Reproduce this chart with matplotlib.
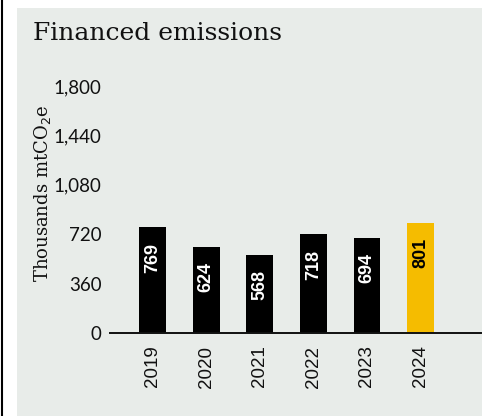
import matplotlib
matplotlib.use("Agg")
import matplotlib.pyplot as plt
from matplotlib.patches import Rectangle
from matplotlib.lines import Line2D
import numpy as np

# --- Data ---
years = ["2019", "2020", "2021", "2022", "2023", "2024"]
emissions = [769, 624, 568, 718, 694, 801]
yticks = [0, 360, 720, 1080, 1440, 1800]
ytick_labels = ["0", "360", "720", "1,080", "1,440", "1,800"]

BG = "#E8ECE9"
GOLD = "#F5BC00"
W, H = 482, 416

fig = plt.figure(figsize=(W / 100, H / 100), dpi=100)
fig.patch.set_facecolor("white")

# panel background and left rule
fig.add_artist(Rectangle((17 / W, 0), 1 - 17 / W, 1 - 8 / H,
                         transform=fig.transFigure, facecolor=BG,
                         edgecolor="none", zorder=-10))
fig.add_artist(Line2D([2 / W, 2 / W], [0, 1], transform=fig.transFigure,
                      color="black", linewidth=1.5, zorder=-5))

fig.text(33 / W, 1 - 34 / H, "Financed emissions", family="DejaVu Serif",
         fontsize=18, ha="left", va="center", color="#111111")

# axes placed in pixel units: zero line at y=333, 1,800 at y=86
left, right = 110, 481
bottom, top = H - 333, H - 86
ax = fig.add_axes([left / W, bottom / H, (right - left) / W, (top - bottom) / H])
ax.set_facecolor("none")

x = np.arange(len(years))
colors = ["black"] * (len(years) - 1) + [GOLD]
ax.bar(x, emissions, width=0.5, color=colors, zorder=2)

for xi, v, c in zip(x, emissions, colors):
    tc = "black" if c == GOLD else "white"
    ax.text(xi, v - 110, f"{v}", rotation=90, ha="center", va="top",
            color=tc, fontsize=13, fontweight="bold", family="Liberation Sans",
            zorder=3)

spacing = 53.6
ax.set_xlim(-(152.5 - left) / spacing, (right - 152.5) / spacing)
ax.set_ylim(0, 1800)

ax.set_yticks(yticks)
ax.set_yticklabels(ytick_labels, family="Lato", fontsize=13.5)
ax.set_xticks(x)
ax.set_xticklabels(years, rotation=90, family="Liberation Sans", fontsize=13.5,
                   va="top")
ax.tick_params(axis="both", length=0, colors="#111111")
ax.tick_params(axis="y", pad=6)
ax.tick_params(axis="x", pad=9)

for s in ["top", "right", "left"]:
    ax.spines[s].set_visible(False)
ax.spines["bottom"].set_linewidth(1.4)
ax.spines["bottom"].set_color("#111111")

fig.text(43 / W, 1 - 193 / H, r"Thousands mtCO$_2$e", family="DejaVu Serif",
         fontsize=13, rotation=90, ha="center", va="center", color="#111111")

fig.savefig("out.png", dpi=100, facecolor=fig.get_facecolor())
